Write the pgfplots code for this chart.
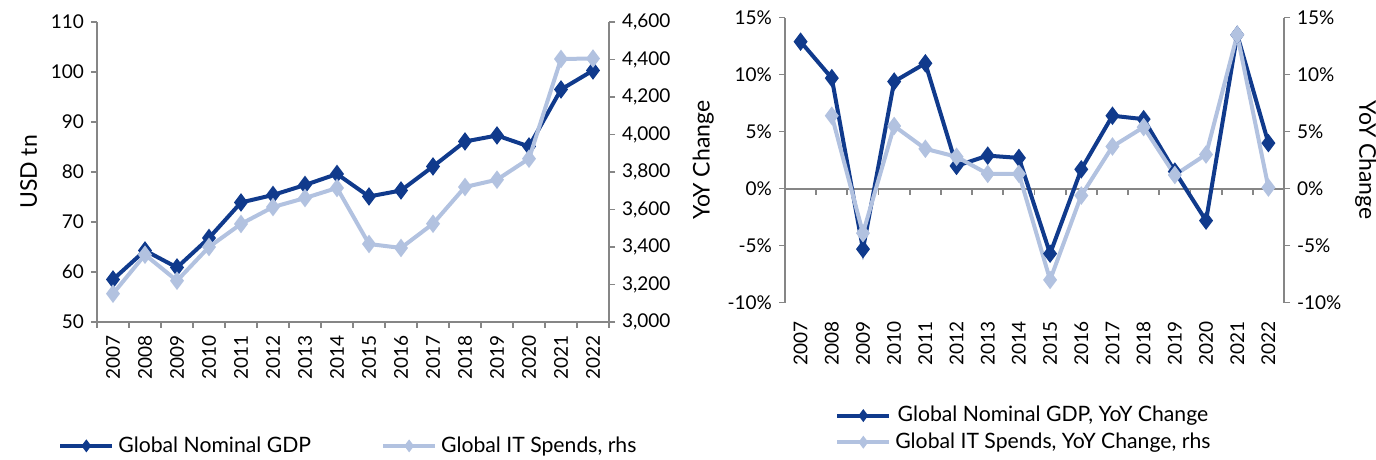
\documentclass[border=0pt]{standalone}
\usepackage{pgfplots}
\pgfplotsset{compat=1.18}
\usepackage{pgfplotstable}
\usepackage{fontspec}
\setmainfont{Lato}
\definecolor{dblue}{RGB}{16,58,140}
\definecolor{lblue}{RGB}{178,194,224}
\definecolor{axgray}{RGB}{134,134,134}
\newcommand\fs{\fontsize{9.5}{11.5}\selectfont}
\newcommand\fl{\fontsize{10.6}{12.5}\selectfont}
\newcommand\fy{\fontsize{11.5}{13}\selectfont}

\pgfplotstableread{
x gdp it gdpy ity
0 58.5 3151 12.9 nan
1 64.3 3359 9.7 6.4
2 60.9 3220 -5.3 -3.9
3 66.8 3400 9.4 5.5
4 73.9 3523 11.0 3.5
5 75.4 3613 2.0 2.8
6 77.4 3661 2.9 1.3
7 79.6 3715 2.7 1.3
8 75.1 3416 -5.7 -8.0
9 76.3 3395 1.7 -0.6
10 81.1 3524 6.4 3.7
11 86.1 3720 6.1 5.4
12 87.3 3759 1.5 1.2
13 85.1 3871 -2.8 3.0
14 96.5 4403 13.5 13.5
15 100.3 4405 4.0 0.1
}\data

\pgfplotsset{
  common/.style={
    scale only axis, xmin=-0.5, xmax=15.5, clip=false,
    axis line style={axgray, line width=0.7pt},
    every tick/.style={axgray, line width=0.7pt},
    tick align=outside,
    major tick length=3pt, minor tick length=3pt,
    ticklabel style={font=\fs, text=black},
    label style={font=\fy},
    /pgf/number format/assume math mode=true,
    scaled y ticks=false,
  },
  cats/.style={
    xtick={0,...,15},
    xticklabels={2007,2008,2009,2010,2011,2012,2013,2014,2015,2016,2017,2018,2019,2020,2021,2022},
    x tick label style={rotate=90, anchor=east},
    major x tick style={draw=none},
  },
  gdpstyle/.style={dblue, line width=2pt, mark=diamond*, mark size=3pt, mark options={solid}},
  itstyle/.style={lblue, line width=2pt, mark=diamond*, mark size=3pt, mark options={solid}},
  myleg/.style={
    legend style={draw=none, fill=none, font=\fl},
    legend image code/.code={\draw[##1, mark repeat=2, mark phase=2, mark size=1.6pt] plot coordinates {(0pt,0pt) (13pt,0pt) (26pt,0pt)};},
  },
}

\begin{document}
\begin{tikzpicture}
\useasboundingbox (0pt,0pt) rectangle (688pt,230pt);

% ---------- Left chart ----------
\begin{axis}[common, cats, at={(48.5pt,69pt)}, anchor=south west, width=256pt, height=150pt,
  axis y line*=left, axis x line*=bottom,
  minor xtick={-0.5,0.5,...,15.5},
  ymin=50, ymax=110, ytick={50,60,...,110},
  ylabel={USD tn}]
\addplot[gdpstyle] table[x=x, y=gdp] {\data};
\end{axis}
\begin{axis}[common, myleg, at={(48.5pt,69pt)}, anchor=south west, width=256pt, height=150pt,
  axis y line*=right, axis x line=none,
  ymin=3000, ymax=4600, ytick={3000,3200,...,4600},
  yticklabel style={/pgf/number format/.cd, 1000 sep={,}},
  legend columns=2,
  legend style={at={(0.493,-0.413)}, anchor=center, /tikz/every even column/.append style={column sep=33pt}}]
\addlegendimage{gdpstyle}
\addlegendentry{Global Nominal GDP}
\addplot[itstyle] table[x=x, y=it] {\data};
\addlegendentry{Global IT Spends, rhs}
\end{axis}

% ---------- Right chart ----------
\begin{axis}[common, at={(392.5pt,78.65pt)}, anchor=south west, width=249.5pt, height=142.5pt,
  axis y line*=right, axis x line=none,
  ymin=-10, ymax=15, ytick={-10,-5,...,15},
  yticklabel={\pgfmathprintnumber{\tick}\%},
  ylabel={YoY Change}, ylabel style={rotate=180}]
\addplot[draw=none, mark=none] coordinates {(0,0) (1,0)};
\end{axis}
\begin{axis}[common, cats, myleg, at={(392.5pt,78.65pt)}, anchor=south west, width=249.5pt, height=142.5pt,
  axis y line*=left, axis x line*=bottom, x axis line style={draw=none},
  xticklabel shift=3pt, unbounded coords=jump,
  ymin=-10, ymax=15, ytick={-10,-5,...,15},
  yticklabel={\pgfmathprintnumber{\tick}\%},
  ylabel={YoY Change},
  legend columns=1,
  legend style={at={(0.088,-0.334)}, anchor=north west, row sep=0pt}]
% zero line and its tick marks (axis decoration)
\addplot[color=axgray, line width=0.9pt, mark=none, forget plot] coordinates {
(-0.5,0) (15.5,0) (16,nan)
(-0.5,0) (-0.5,-0.53) (0,nan) (0.5,0) (0.5,-0.53) (1,nan) (1.5,0) (1.5,-0.53) (2,nan)
(2.5,0) (2.5,-0.53) (3,nan) (3.5,0) (3.5,-0.53) (4,nan) (4.5,0) (4.5,-0.53) (5,nan)
(5.5,0) (5.5,-0.53) (6,nan) (6.5,0) (6.5,-0.53) (7,nan) (7.5,0) (7.5,-0.53) (8,nan)
(8.5,0) (8.5,-0.53) (9,nan) (9.5,0) (9.5,-0.53) (10,nan) (10.5,0) (10.5,-0.53) (11,nan)
(11.5,0) (11.5,-0.53) (12,nan) (12.5,0) (12.5,-0.53) (13,nan) (13.5,0) (13.5,-0.53) (14,nan)
(14.5,0) (14.5,-0.53) (15,nan) (15.5,0) (15.5,-0.53)};
\addplot[gdpstyle] table[x=x, y=gdpy] {\data};
\addlegendentry{Global Nominal GDP, YoY Change}
\addplot[itstyle] table[x=x, y=ity] {\data};
\addlegendentry{Global IT Spends, YoY Change, rhs}
\end{axis}
\end{tikzpicture}
\end{document}
